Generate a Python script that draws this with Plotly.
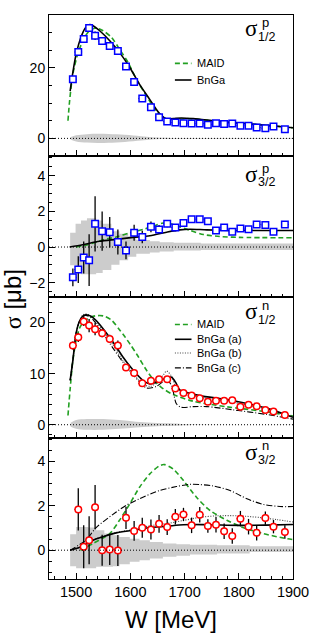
import plotly.graph_objects as go
from plotly.subplots import make_subplots

# measured points (same W bins for all panels, sigma3/2 neutron starts one bin later)
W_pts = [1494, 1504, 1514, 1524, 1535, 1548, 1562, 1577, 1592, 1607, 1622, 1638, 1653, 1668,
         1683, 1698, 1713, 1728, 1743, 1758, 1773, 1788, 1803, 1818, 1833, 1849, 1864, 1885]
W_pts_n32 = W_pts[1:]

sig12_p = [16.8, 24.5, 28.2, 31.3, 29.1, 27.6, 26.2, 24.8, 20.4, 16.0, 11.3, 8.8, 6.0, 4.8,
           4.5, 4.3, 4.2, 4.2, 3.9, 4.3, 4.1, 4.2, 3.6, 3.6, 3.1, 2.9, 3.4, 2.6]
err12_p = [0.6, 0.6, 0.8, 0.9, 1.2, 1.0, 0.8, 0.8, 0.7, 0.6, 0.5, 0.5, 0.5, 0.4,
           0.3, 0.3, 0.3, 0.3, 0.3, 0.3, 0.3, 0.3, 0.3, 0.3, 0.3, 0.3, 0.3, 0.3]

sig32_p = [-1.70, -1.26, -0.59, -0.74, 1.30, 0.89, 0.83, 0.28, -0.19, 0.80, 0.56, 1.13, 0.98, 1.31,
           1.09, 1.35, 1.56, 1.56, 1.44, 0.93, 1.09, 0.85, 1.04, 1.00, 1.26, 1.24, 0.85, 1.26]
err32_p = [0.5, 0.75, 0.9, 1.45, 1.55, 1.1, 0.85, 0.7, 0.5, 0.45, 0.35, 0.3, 0.25, 0.2,
           0.2, 0.15, 0.15, 0.15, 0.15, 0.15, 0.15, 0.15, 0.15, 0.15, 0.15, 0.15, 0.15, 0.15]

sig12_n = [15.5, 17.1, 20.2, 19.4, 18.7, 17.9, 16.8, 15.5, 11.2, 10.1, 8.1, 8.6, 8.9, 8.9,
           7.1, 6.2, 5.7, 5.2, 4.5, 4.7, 4.7, 4.8, 3.5, 3.9, 3.6, 2.9, 2.6, 1.9]
err12_n = [0.8, 0.9, 0.9, 1.3, 1.2, 0.8, 0.8, 1.0, 0.6, 0.6, 0.5, 0.5, 0.5, 0.6,
           0.5, 0.4, 0.3, 0.3, 0.3, 0.3, 0.3, 0.3, 0.3, 0.3, 0.3, 0.3, 0.3, 0.3]

sig32_n = [1.84, 0.15, 0.45, 1.94, 0.0, 0.03, -0.01, 1.46, 0.87, 1.01, 0.93, 1.19, 1.04, 1.51,
           1.61, 1.12, 1.60, 1.09, 1.15, 0.85, 0.64, 1.42, 1.06, 0.79, 1.45, 1.06, 0.82]
err32_n = [0.95, 0.97, 1.08, 1.0, 0.7, 0.7, 0.7, 0.5, 0.45, 0.45, 0.45, 0.4, 0.35, 0.35,
           0.3, 0.35, 0.35, 0.3, 0.35, 0.35, 0.35, 0.35, 0.35, 0.35, 0.3, 0.3, 0.3]

W_binhalf = 7

# model curves
W_maid_p12 = [1485, 1488, 1494, 1503, 1514, 1525, 1537, 1549, 1565, 1580, 1596, 1611, 1630, 1648,
              1664, 1679, 1704, 1759, 1852, 1900]
maid_p12 = [5.0, 10.6, 18.2, 23.9, 28.2, 30.6, 31.3, 30.6, 28.7, 25.3, 21.5, 16.8, 12.0, 7.7,
            5.6, 5.3, 5.6, 4.9, 3.7, 3.0]
W_bnga_p12 = [1489, 1494, 1500, 1509, 1517, 1525, 1532, 1543, 1562, 1580, 1599, 1617, 1636, 1648,
              1657, 1667, 1679, 1694, 1716, 1759, 1802, 1852, 1900]
bnga_p12 = [13.4, 18.7, 23.9, 28.7, 31.3, 32.3, 31.9, 30.6, 27.7, 24.4, 20.1, 15.3, 11.0, 8.2,
            6.5, 5.5, 5.6, 5.8, 5.6, 4.9, 4.3, 3.7, 3.0]

W_maid_p32 = [1500, 1520, 1540, 1552, 1574, 1599, 1623, 1642, 1664, 1685, 1710, 1735, 1765, 1802, 1900]
maid_p32 = [0.0, 0.12, 0.3, 0.43, 0.56, 0.8, 0.98, 1.17, 1.36, 1.2, 0.93, 0.7, 0.59, 0.54, 0.52]
W_bnga_p32 = [1488, 1512, 1543, 1574, 1605, 1636, 1667, 1691, 1710, 1741, 1790, 1900]
bnga_p32 = [0.0, 0.13, 0.32, 0.43, 0.54, 0.63, 0.83, 0.96, 1.0, 0.96, 0.93, 0.93]

W_maid_n12 = [1485, 1489, 1494, 1500, 1506, 1512, 1522, 1535, 1550, 1565, 1580, 1590, 1600, 1613,
              1629, 1642, 1656, 1679, 1716, 1778, 1840, 1900]
maid_n12 = [1.8, 7.0, 12.5, 16.5, 18.8, 19.9, 20.8, 21.3, 21.3, 20.5, 18.6, 17.2, 15.7, 13.6,
            10.8, 8.9, 7.4, 5.9, 4.6, 3.5, 2.7, 1.7]
W_bnga_a_n12 = [1489, 1494, 1500, 1506, 1512, 1518, 1528, 1537, 1549, 1568, 1586, 1605, 1623, 1636,
                1648, 1663, 1676, 1685, 1691, 1704, 1728, 1790, 1852, 1900]
bnga_a_n12 = [8.7, 12.6, 17.9, 20.2, 21.2, 21.5, 21.2, 20.4, 18.9, 16.2, 13.3, 10.7, 8.7, 8.0,
              8.3, 9.0, 9.3, 8.0, 6.8, 6.3, 5.7, 4.7, 3.2, 1.45]
W_bnga_b_n12 = [1489, 1494, 1500, 1506, 1512, 1518, 1528, 1537, 1549, 1568, 1586, 1605, 1623, 1636,
                1650, 1660, 1667, 1676, 1685, 1704, 1728, 1790, 1852, 1900]
bnga_b_n12 = [8.7, 12.6, 17.9, 20.3, 21.4, 21.7, 21.2, 20.2, 18.5, 15.6, 12.6, 10.0, 8.0, 7.5,
              8.3, 9.6, 10.5, 9.5, 7.2, 6.2, 5.4, 4.4, 2.9, 1.6]
W_bnga_c_n12 = [1489, 1494, 1500, 1506, 1512, 1518, 1528, 1537, 1549, 1568, 1586, 1605, 1630, 1648,
                1660, 1667, 1676, 1685, 1694, 1716, 1741, 1790, 1852, 1900]
bnga_c_n12 = [8.7, 12.6, 17.9, 20.2, 21.2, 21.4, 20.9, 19.8, 18.0, 15.0, 12.3, 9.8, 7.2, 7.5,
              8.4, 8.8, 7.7, 4.1, 3.4, 3.55, 3.55, 2.9, 2.0, 1.1]

W_maid_n32 = [1508, 1531, 1562, 1580, 1599, 1617, 1636, 1654, 1663, 1679, 1698, 1722, 1747, 1778,
              1808, 1845, 1882, 1900]
maid_n32 = [0.0, 0.3, 0.75, 1.35, 2.09, 2.84, 3.44, 3.81, 3.86, 3.66, 3.14, 2.39, 1.79, 1.35,
            1.02, 0.75, 0.55, 0.48]
W_bnga_a_n32 = [1489, 1512, 1531, 1549, 1574, 1605, 1636, 1667, 1698, 1740, 1800, 1850, 1900]
bnga_a_n32 = [0.0, 0.18, 0.45, 0.6, 0.78, 0.9, 1.02, 1.08, 1.15, 1.15, 1.12, 1.13, 1.16]
W_bnga_b_n32 = [1489, 1512, 1531, 1549, 1574, 1605, 1636, 1667, 1698, 1728, 1760, 1800, 1840, 1870, 1900]
bnga_b_n32 = [0.0, 0.18, 0.45, 0.62, 0.8, 0.93, 1.1, 1.2, 1.34, 1.48, 1.55, 1.55, 1.47, 1.38, 1.27]
W_bnga_c_n32 = [1489, 1518, 1537, 1574, 1592, 1617, 1654, 1685, 1710, 1728, 1753, 1784, 1815, 1846, 1876, 1900]
bnga_c_n32 = [0.0, 0.45, 1.02, 1.72, 2.02, 2.32, 2.69, 2.87, 2.97, 2.96, 2.9, 2.69, 2.32, 2.06, 1.97, 1.97]

# systematic bands
W_band_p12 = [1490, 1500, 1520, 1540, 1560, 1590, 1620, 1640, 1660, 1700, 1900]
band_hi_p12 = [0.4, 0.9, 1.2, 1.3, 1.25, 1.0, 0.6, 0.35, 0.2, 0.12, 0.1]
band_lo_p12 = [-0.4, -0.9, -1.2, -1.3, -1.25, -1.0, -0.6, -0.35, -0.2, -0.12, -0.1]

W_band_p32 = [1489, 1499, 1509, 1520, 1537, 1549, 1565, 1580, 1596, 1611, 1636, 1654, 1680, 1730, 1900]
band_hi_p32 = [0.8, 1.3, 1.48, 1.61, 1.48, 1.3, 0.89, 0.75, 0.6, 0.4, 0.32, 0.27, 0.24, 0.2, 0.2]
band_lo_p32 = [-1.02, -1.29, -1.52, -1.52, -1.45, -1.29, -1.0, -0.74, -0.55, -0.37, -0.3, -0.25, -0.2, -0.17, -0.17]

W_band_n12 = [1490, 1500, 1520, 1550, 1580, 1610, 1640, 1680, 1720, 1900]
band_hi_n12 = [0.4, 0.9, 1.1, 1.1, 0.9, 0.6, 0.4, 0.25, 0.05, 0.03]
band_lo_n12 = [-0.4, -0.8, -1.0, -1.0, -0.8, -0.55, -0.35, -0.2, -0.05, -0.03]

W_band_n32 = [1489, 1500, 1522, 1537, 1552, 1568, 1580, 1599, 1617, 1636, 1660, 1685, 1710, 1760, 1820, 1900]
band_hi_n32 = [0.72, 1.05, 1.02, 0.9, 0.75, 0.67, 0.6, 0.52, 0.45, 0.37, 0.3, 0.27, 0.25, 0.22, 0.18, 0.18]
band_lo_n32 = [-0.72, -0.82, -0.82, -0.75, -0.75, -0.72, -0.63, -0.52, -0.45, -0.37, -0.3, -0.25, -0.2, -0.15, -0.08, -0.08]

GREEN = "#22a022"
GREY = "#cccccc"
FONT = "Liberation Sans, Arial, sans-serif"
SERIF = "Liberation Serif, Times New Roman, serif"

fig = make_subplots(rows=4, cols=1, shared_xaxes=True, vertical_spacing=0)


def add_band(row, w, lo, hi, shape):
    fig.add_trace(go.Scatter(x=w, y=lo, mode="lines", line=dict(width=0, shape=shape),
                             showlegend=False, hoverinfo="skip"), row=row, col=1)
    fig.add_trace(go.Scatter(x=w, y=hi, mode="lines", line=dict(width=0, shape=shape),
                             fill="tonexty", fillcolor=GREY, showlegend=False,
                             hoverinfo="skip"), row=row, col=1)


def add_curve(row, w, y, color, dash, width):
    fig.add_trace(go.Scatter(x=w, y=y, mode="lines",
                             line=dict(color=color, dash=dash, width=width, shape="spline", smoothing=0.8),
                             showlegend=False), row=row, col=1)


def add_points(row, w, y, err, color, symbol):
    fig.add_trace(go.Scatter(
        x=w, y=y, mode="markers",
        marker=dict(symbol=symbol, size=6.5, color="white", line=dict(color=color, width=1.5)),
        error_y=dict(type="data", array=err, color="black", thickness=1.3, width=0),
        error_x=dict(type="constant", value=W_binhalf, color="black", thickness=1, width=0),
        showlegend=False), row=row, col=1)


# panel 1: proton sigma 1/2
add_band(1, W_band_p12, band_lo_p12, band_hi_p12, "spline")
add_curve(1, W_maid_p12, maid_p12, GREEN, "5px,3px", 1.6)
add_curve(1, W_bnga_p12, bnga_p12, "black", "solid", 1.6)
add_points(1, W_pts, sig12_p, err12_p, "#0000ff", "square")

# panel 2: proton sigma 3/2
add_band(2, W_band_p32, band_lo_p32, band_hi_p32, "hv")
add_curve(2, W_maid_p32, maid_p32, GREEN, "5px,3px", 1.6)
add_curve(2, W_bnga_p32, bnga_p32, "black", "solid", 1.6)
add_points(2, W_pts, sig32_p, err32_p, "#0000ff", "square")

# panel 3: neutron sigma 1/2
add_band(3, W_band_n12, band_lo_n12, band_hi_n12, "spline")
add_curve(3, W_maid_n12, maid_n12, GREEN, "5px,3px", 1.6)
add_curve(3, W_bnga_b_n12, bnga_b_n12, "#444444", "1px,1.5px", 1.1)
add_curve(3, W_bnga_c_n12, bnga_c_n12, "black", "6px,2px,1px,2px", 1.1)
add_curve(3, W_bnga_a_n12, bnga_a_n12, "black", "solid", 1.6)
add_points(3, W_pts, sig12_n, err12_n, "#ff0000", "circle")

# panel 4: neutron sigma 3/2
add_band(4, W_band_n32, band_lo_n32, band_hi_n32, "hv")
add_curve(4, W_maid_n32, maid_n32, GREEN, "5px,3px", 1.6)
add_curve(4, W_bnga_b_n32, bnga_b_n32, "#444444", "1px,1.5px", 1.1)
add_curve(4, W_bnga_c_n32, bnga_c_n32, "black", "6px,2px,1px,2px", 1.1)
add_curve(4, W_bnga_a_n32, bnga_a_n32, "black", "solid", 1.6)
add_points(4, W_pts_n32, sig32_n, err32_n, "#ff0000", "circle")

for r in range(1, 5):
    fig.add_hline(y=0, line=dict(color="black", width=1, dash="1px,2px"), row=r, col=1)

axis_common = dict(showline=True, linecolor="black", linewidth=1, mirror=True, showgrid=False,
                   zeroline=False, ticks="inside", tickcolor="black", tickwidth=1,
                   tickfont=dict(family=FONT, size=14, color="black"))
fig.update_xaxes(range=[1450, 1900], dtick=100, tick0=1500, ticklen=6,
                 minor=dict(dtick=20, ticks="inside", ticklen=3, tickcolor="black"),
                 **axis_common)
fig.update_xaxes(tickfont=dict(size=14.5), row=4, col=1)

y_ranges = [[-5, 35], [-2.8, 5.1], [-2.6, 25], [-1.3, 5.06]]
y_dticks = [20, 2, 10, 2]
y_minor = [5, 0.5, 2, 0.5]
for r in range(4):
    fig.update_yaxes(range=y_ranges[r], dtick=y_dticks[r], tick0=0, ticklen=6,
                     minor=dict(dtick=y_minor[r], tick0=0, ticks="inside", ticklen=3, tickcolor="black"),
                     row=r + 1, col=1, **axis_common)

# panel labels (sigma with stacked super/subscripts)
labels = [("p", "1/2", 0.886, 0.95, 0.846), ("p", "3/2", 0.85, 0.91, 0.814),
          ("n", "1/2", 0.879, 0.937, 0.839), ("n", "3/2", 0.879, 0.944, 0.843)]
yrefs = ["y domain", "y2 domain", "y3 domain", "y4 domain"]
for (sup, sub, ys, yp, yb), yref in zip(labels, yrefs):
    fig.add_annotation(text="σ", xref="x domain", yref=yref, x=0.828, y=ys + 0.018,
                       xanchor="center", yanchor="middle", showarrow=False,
                       font=dict(family=SERIF, size=23, color="black"))
    fig.add_annotation(text=sup, xref="x domain", yref=yref, x=0.865, y=yp,
                       xanchor="left", yanchor="middle", showarrow=False,
                       font=dict(family=FONT, size=13, color="black"))
    fig.add_annotation(text=sub, xref="x domain", yref=yref, x=0.848, y=yb,
                       xanchor="left", yanchor="middle", showarrow=False,
                       font=dict(family=FONT, size=12.5, color="black"))

# legends drawn as key lines + text
legend1 = [("MAID", GREEN, "5px,3px", 1.6, 0.657), ("BnGa", "black", "solid", 1.6, 0.539)]
legend3 = [("MAID", GREEN, "5px,3px", 1.6, 0.805), ("BnGa (a)", "black", "solid", 1.6, 0.70),
           ("BnGa (b)", "#444444", "1px,1.5px", 1.1, 0.603),
           ("BnGa (c)", "black", "6px,2px,1px,2px", 1.1, 0.497)]
for items, yref in [(legend1, "y domain"), (legend3, "y3 domain")]:
    for name, color, dash, width, yy in items:
        fig.add_shape(type="line", xref="x domain", yref=yref, x0=0.516, x1=0.584, y0=yy, y1=yy,
                      line=dict(color=color, dash=dash, width=width))
        fig.add_annotation(text=name, xref="x domain", yref=yref, x=0.598, y=yy,
                           xanchor="left", yanchor="middle", showarrow=False,
                           font=dict(family=FONT, size=11, color="black"))

fig.add_annotation(text="<span style='font-family:Liberation Serif'>σ</span> [μb]",
                   xref="paper", yref="paper", x=-0.152, y=0.496, textangle=-90,
                   xanchor="center", yanchor="middle", showarrow=False,
                   font=dict(family=FONT, size=24, color="black"))
fig.add_annotation(text="W [MeV]", xref="paper", yref="paper", x=0.5, y=-0.071,
                   xanchor="center", yanchor="middle", showarrow=False,
                   font=dict(family=FONT, size=24, color="black"))

fig.update_layout(width=324, height=642, margin=dict(l=49, r=31, t=15, b=63),
                  paper_bgcolor="white", plot_bgcolor="white", showlegend=False)

fig.write_html("out.html", config={"displayModeBar": False},
               post_script="document.body.style.margin='0';")
